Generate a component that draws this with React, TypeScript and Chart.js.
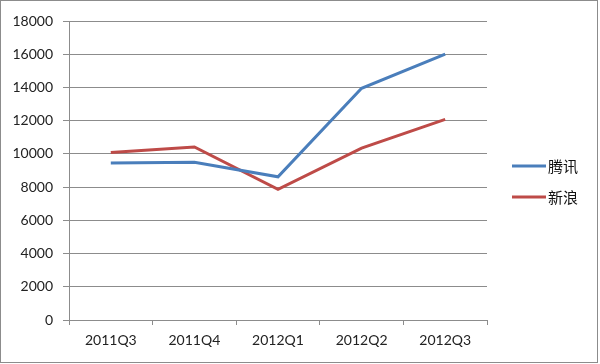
import React, { useEffect, useRef } from "react";
import { Chart, registerables } from "chart.js";

Chart.register(...registerables);

const categories = ["2011Q3", "2011Q4", "2012Q1", "2012Q2", "2012Q3"];
const tencent = [9450, 9500, 8620, 13950, 16000];
const sina = [10080, 10420, 7860, 10350, 12080];
const seriesNames = ["腾讯", "新浪"];
const seriesColors = ["#4A7EBB", "#BE4B48"];

const GRID = "#8C8C8C";
const FONT = "Lato, 'Open Sans', sans-serif";

const framePlugin = {
  id: "frame",
  beforeDraw(chart: any) {
    const { ctx } = chart;
    ctx.save();
    ctx.fillStyle = "#ffffff";
    ctx.fillRect(0, 0, chart.width, chart.height);
    ctx.strokeStyle = "#8C8C8C";
    ctx.lineWidth = 1;
    ctx.strokeRect(0.5, 0.5, 597, 362);
    ctx.restore();
  },
};

const legendPlugin = {
  id: "sideLegend",
  afterDraw(chart: any) {
    const { ctx } = chart;
    ctx.save();
    chart.data.datasets.forEach((ds: any, i: number) => {
      const y = 166 + i * 31;
      ctx.strokeStyle = ds.borderColor;
      ctx.lineWidth = 3;
      ctx.beginPath();
      ctx.moveTo(512, y);
      ctx.lineTo(546, y);
      ctx.stroke();
      ctx.fillStyle = "#111";
      ctx.font = "15px 'Noto Sans CJK SC', sans-serif";
      ctx.textBaseline = "middle";
      ctx.textAlign = "left";
      ctx.fillText(ds.label, 548, y);
    });
    ctx.restore();
  },
};

export default function App() {
  const ref = useRef<HTMLCanvasElement | null>(null);

  useEffect(() => {
    if (!ref.current) return;
    const chart = new Chart(ref.current, {
      type: "line",
      data: {
        labels: categories,
        datasets: [
          {
            label: seriesNames[0],
            data: tencent,
            borderColor: seriesColors[0],
            backgroundColor: seriesColors[0],
            borderWidth: 3,
            pointRadius: 0,
            tension: 0,
          },
          {
            label: seriesNames[1],
            data: sina,
            borderColor: seriesColors[1],
            backgroundColor: seriesColors[1],
            borderWidth: 3,
            pointRadius: 0,
            tension: 0,
          },
        ],
      },
      options: {
        responsive: false,
        animation: false,
        devicePixelRatio: 1,
        layout: { padding: { left: 0, right: 113, top: 21, bottom: 0 } },
        plugins: {
          legend: { display: false },
          tooltip: { enabled: false },
        },
        scales: {
          x: {
            offset: true,
            grid: {
              offset: true,
              drawOnChartArea: false,
              drawTicks: true,
              tickLength: 5,
              color: GRID,
            },
            border: { display: true, color: GRID },
            ticks: {
              color: "#222",
              font: { family: FONT, size: 14 },
              padding: 7,
              maxRotation: 0,
            },
            afterFit: (s: any) => {
              s.height = 44;
            },
          },
          y: {
            min: 0,
            max: 18000,
            grid: { color: GRID, tickLength: 6, drawTicks: true },
            border: { display: true, color: GRID },
            ticks: {
              stepSize: 2000,
              color: "#222",
              font: { family: FONT, size: 14 },
              padding: 10,
              callback: (v: any) => String(v),
            },
            afterFit: (s: any) => {
              s.width = 69;
            },
          },
        },
      },
      plugins: [framePlugin, legendPlugin],
    });
    return () => chart.destroy();
  }, []);

  return (
    <div style={{ position: "fixed", left: 0, top: 0, width: 600, height: 364 }}>
      <canvas ref={ref} width={600} height={364} style={{ display: "block" }} />
    </div>
  );
}
